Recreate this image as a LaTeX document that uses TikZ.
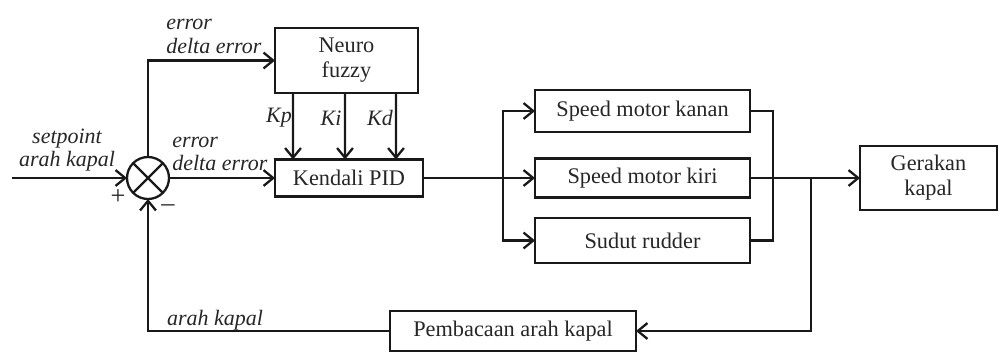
\documentclass[tikz,border=0pt]{standalone}
\usepackage{fontspec}
\setmainfont{Liberation Serif}
\usetikzlibrary{arrows.meta}
\begin{document}
\begin{tikzpicture}[x=0.02cm,y=-0.02cm,
  wire/.style={draw=black!90,line width=1.3pt},
  arr/.style={wire,-{Straight Barb[length=5.5pt,width=9pt,line width=1.3pt]}},
  blk/.style={draw=black!90,line width=1.4pt,inner sep=0pt,outer sep=0pt,align=center,
    font=\fontsize{12.7}{14.2}\selectfont,text=black!85},
  lbl/.style={inner sep=0pt,font=\fontsize{12.5}{13.5}\itshape\selectfont,text=black!85},
  sgn/.style={inner sep=0pt,font=\fontsize{15}{16}\selectfont,text=black!85}]
\useasboundingbox (0,0) rectangle (1000,352);

% blocks
\node[blk,minimum width=2.86cm,minimum height=1.30cm] (nf) at (346.5,60.5) {Neuro\\fuzzy};
\node[blk,minimum width=2.96cm,minimum height=0.74cm] (pid) at (349,178) {Kendali PID};
\node[blk,minimum width=4.30cm,minimum height=0.84cm] (smk) at (642.5,111) {Speed motor kanan};
\node[blk,minimum width=4.30cm,minimum height=0.78cm] (smi) at (642.5,178) {Speed motor kiri};
\node[blk,minimum width=4.30cm,minimum height=0.90cm] (sr) at (642.5,240.5) {Sudut rudder};
\node[blk,minimum width=2.74cm,minimum height=1.28cm] (gk) at (928.5,178) {Gerakan\\kapal};
\node[blk,minimum width=4.92cm,minimum height=0.80cm] (pak) at (513,331) {Pembacaan arah kapal};
\node[draw=black!90,line width=1.3pt,circle,minimum size=0.84cm,inner sep=0pt,outer sep=0pt] (sum) at (148,178) {};
\draw[wire] (sum.45) -- (sum.225) (sum.135) -- (sum.315);

% helper coordinates
\coordinate (in) at (12,178);
\coordinate (busL) at (503,178);
\coordinate (busR) at (773,178);
\coordinate (tap) at (811,178);

% connectors
\draw[arr] (in) -- (sum.west);
\draw[arr] (sum.east) -- (pid.west);
\draw[arr] (sum.north) |- (nf.west);
\draw[arr] ([xshift=0.36cm]nf.south west) -- ([xshift=0.36cm]pid.north west);
\draw[arr] ([xshift=1.40cm]nf.south west) -- ([xshift=1.40cm]pid.north west);
\draw[arr] ([xshift=2.42cm]nf.south west) -- ([xshift=2.42cm]pid.north west);
\draw[arr] (pid.east) -- (smi.west);
\draw[arr] (busL) |- (smk.west);
\draw[arr] (busL) |- (sr.west);
\draw[wire] (smk.east) -| (busR);
\draw[wire] (sr.east) -| (busR);
\draw[arr] (smi.east) -- (gk.west);
\draw[arr] (tap) |- (pak.east);
\draw[arr] (pak.west) -| (sum.south);

% labels
\node[lbl,align=center] (lsp) at (67,150) {setpoint\\arah kapal};
\node[lbl,align=left,anchor=west] (le1) at (166,36.5) {error\\delta error};
\node[lbl,align=left,anchor=west] (le2) at (172,154) {error\\delta error};
\node[lbl] (lkp) at (279,118) {Kp};
\node[lbl] (lki) at (331,118) {Ki};
\node[lbl] (lkd) at (380,118) {Kd};
\node[sgn] (lplus) at (118,197) {+};
\node[sgn] (lminus) at (168,208) {\textendash};
\node[lbl] (lak) at (215,320) {arah kapal};
\end{tikzpicture}
\end{document}
